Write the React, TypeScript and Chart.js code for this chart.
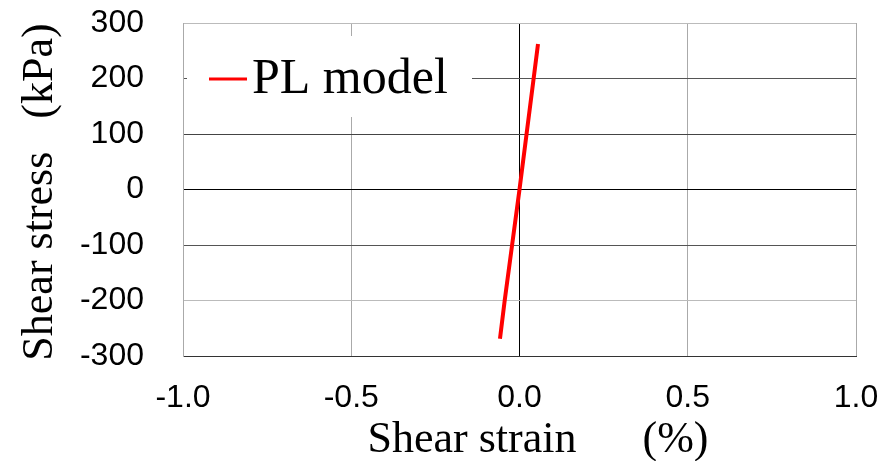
import React, { useEffect, useRef } from "react";
import { Chart, registerables } from "chart.js";

Chart.register(...registerables);

// Data
const strain: number[] = [-0.058, -0.044, -0.022, 0.0, 0.021, 0.042, 0.055];
const stress: number[] = [-269, -200, -100, 0, 100, 200, 262];
const seriesName = "PL model";
const xTitle = "Shear strain      (%)";
const yTitle = "Shear stress   (kPa)";
const xTicks: number[] = [-1.0, -0.5, 0.0, 0.5, 1.0];
const yTicks: number[] = [-300, -200, -100, 0, 100, 200, 300];

const yGridColors: Record<string, string> = {
  "300": "#bbbbbb",
  "200": "#555555",
  "100": "#444444",
  "0": "#000000",
  "-100": "#555555",
  "-200": "#bbbbbb",
  "-300": "#444444",
};

const SERIF = '"Liberation Serif", "Times New Roman", serif';
const SANS = '"Liberation Sans", Arial, sans-serif';

const overlayPlugin = {
  id: "overlay",
  afterDraw(chart: any) {
    const ctx = chart.ctx as CanvasRenderingContext2D;
    ctx.save();
    // legend box
    ctx.fillStyle = "#ffffff";
    ctx.fillRect(187, 36, 285, 81);
    ctx.strokeStyle = "#ff0000";
    ctx.lineWidth = 3;
    ctx.beginPath();
    ctx.moveTo(209, 79);
    ctx.lineTo(247, 79);
    ctx.stroke();
    ctx.fillStyle = "#000000";
    ctx.font = `50px ${SERIF}`;
    ctx.textAlign = "left";
    ctx.textBaseline = "alphabetic";
    ctx.fillText(seriesName, 252, 93);

    // x axis title
    ctx.font = `44px ${SERIF}`;
    ctx.textAlign = "center";
    ctx.fillText(xTitle, 538, 452);

    // y axis title
    ctx.translate(52, 192);
    ctx.rotate(-Math.PI / 2);
    ctx.fillText(yTitle, 0, 0);
    ctx.restore();
  },
};

const zeroPad = (scale: any) => {
  scale.paddingTop = 0;
  scale.paddingBottom = 0;
  scale.paddingLeft = 0;
  scale.paddingRight = 0;
};

export default function App() {
  const ref = useRef<HTMLCanvasElement | null>(null);

  useEffect(() => {
    document.body.style.margin = "0";
    const canvas = ref.current;
    if (!canvas) return;
    const points = strain.map((x, i) => ({ x, y: stress[i] }));
    const chart = new Chart(canvas, {
      type: "scatter",
      data: {
        datasets: [
          {
            label: seriesName,
            data: points,
            showLine: true,
            borderColor: "#ff0000",
            backgroundColor: "#ff0000",
            borderWidth: 4,
            pointRadius: 0,
            tension: 0,
          },
        ],
      },
      options: {
        animation: false,
        responsive: false,
        devicePixelRatio: 1,
        layout: { padding: { top: 23, right: 32, left: 0, bottom: 0 } },
        plugins: {
          legend: { display: false },
          tooltip: { enabled: false },
        },
        scales: {
          x: {
            type: "linear",
            min: -1,
            max: 1,
            afterFit: (scale: any) => {
              scale.height = 105;
              zeroPad(scale);
            },
            afterBuildTicks: (scale: any) => {
              scale.ticks = xTicks.map((v) => ({ value: v }));
            },
            ticks: {
              padding: 23,
              color: "#000000",
              font: { family: SANS, size: 32 },
              callback: (v: any) => Number(v).toFixed(1),
              maxRotation: 0,
              autoSkip: false,
            },
            grid: {
              drawTicks: false,
              lineWidth: 1,
              color: (c: any) => (c.tick && c.tick.value === 0 ? "#000000" : "#aaaaaa"),
            },
            border: { color: "#333333", width: 1 },
          },
          y: {
            type: "linear",
            min: -300,
            max: 300,
            afterFit: (scale: any) => {
              scale.width = 183;
              zeroPad(scale);
            },
            afterBuildTicks: (scale: any) => {
              scale.ticks = yTicks.map((v) => ({ value: v }));
            },
            ticks: {
              padding: 39,
              color: "#000000",
              font: { family: SANS, size: 32 },
              autoSkip: false,
            },
            grid: {
              drawTicks: false,
              lineWidth: 1,
              color: (c: any) =>
                c.tick ? yGridColors[String(c.tick.value)] || "#bbbbbb" : "#bbbbbb",
            },
            border: { color: "#aaaaaa", width: 1 },
          },
        },
      },
      plugins: [overlayPlugin],
    });
    return () => chart.destroy();
  }, []);

  return (
    <div style={{ width: 888, height: 461, background: "#ffffff" }}>
      <canvas ref={ref} width={888} height={461} style={{ display: "block" }} />
    </div>
  );
}
